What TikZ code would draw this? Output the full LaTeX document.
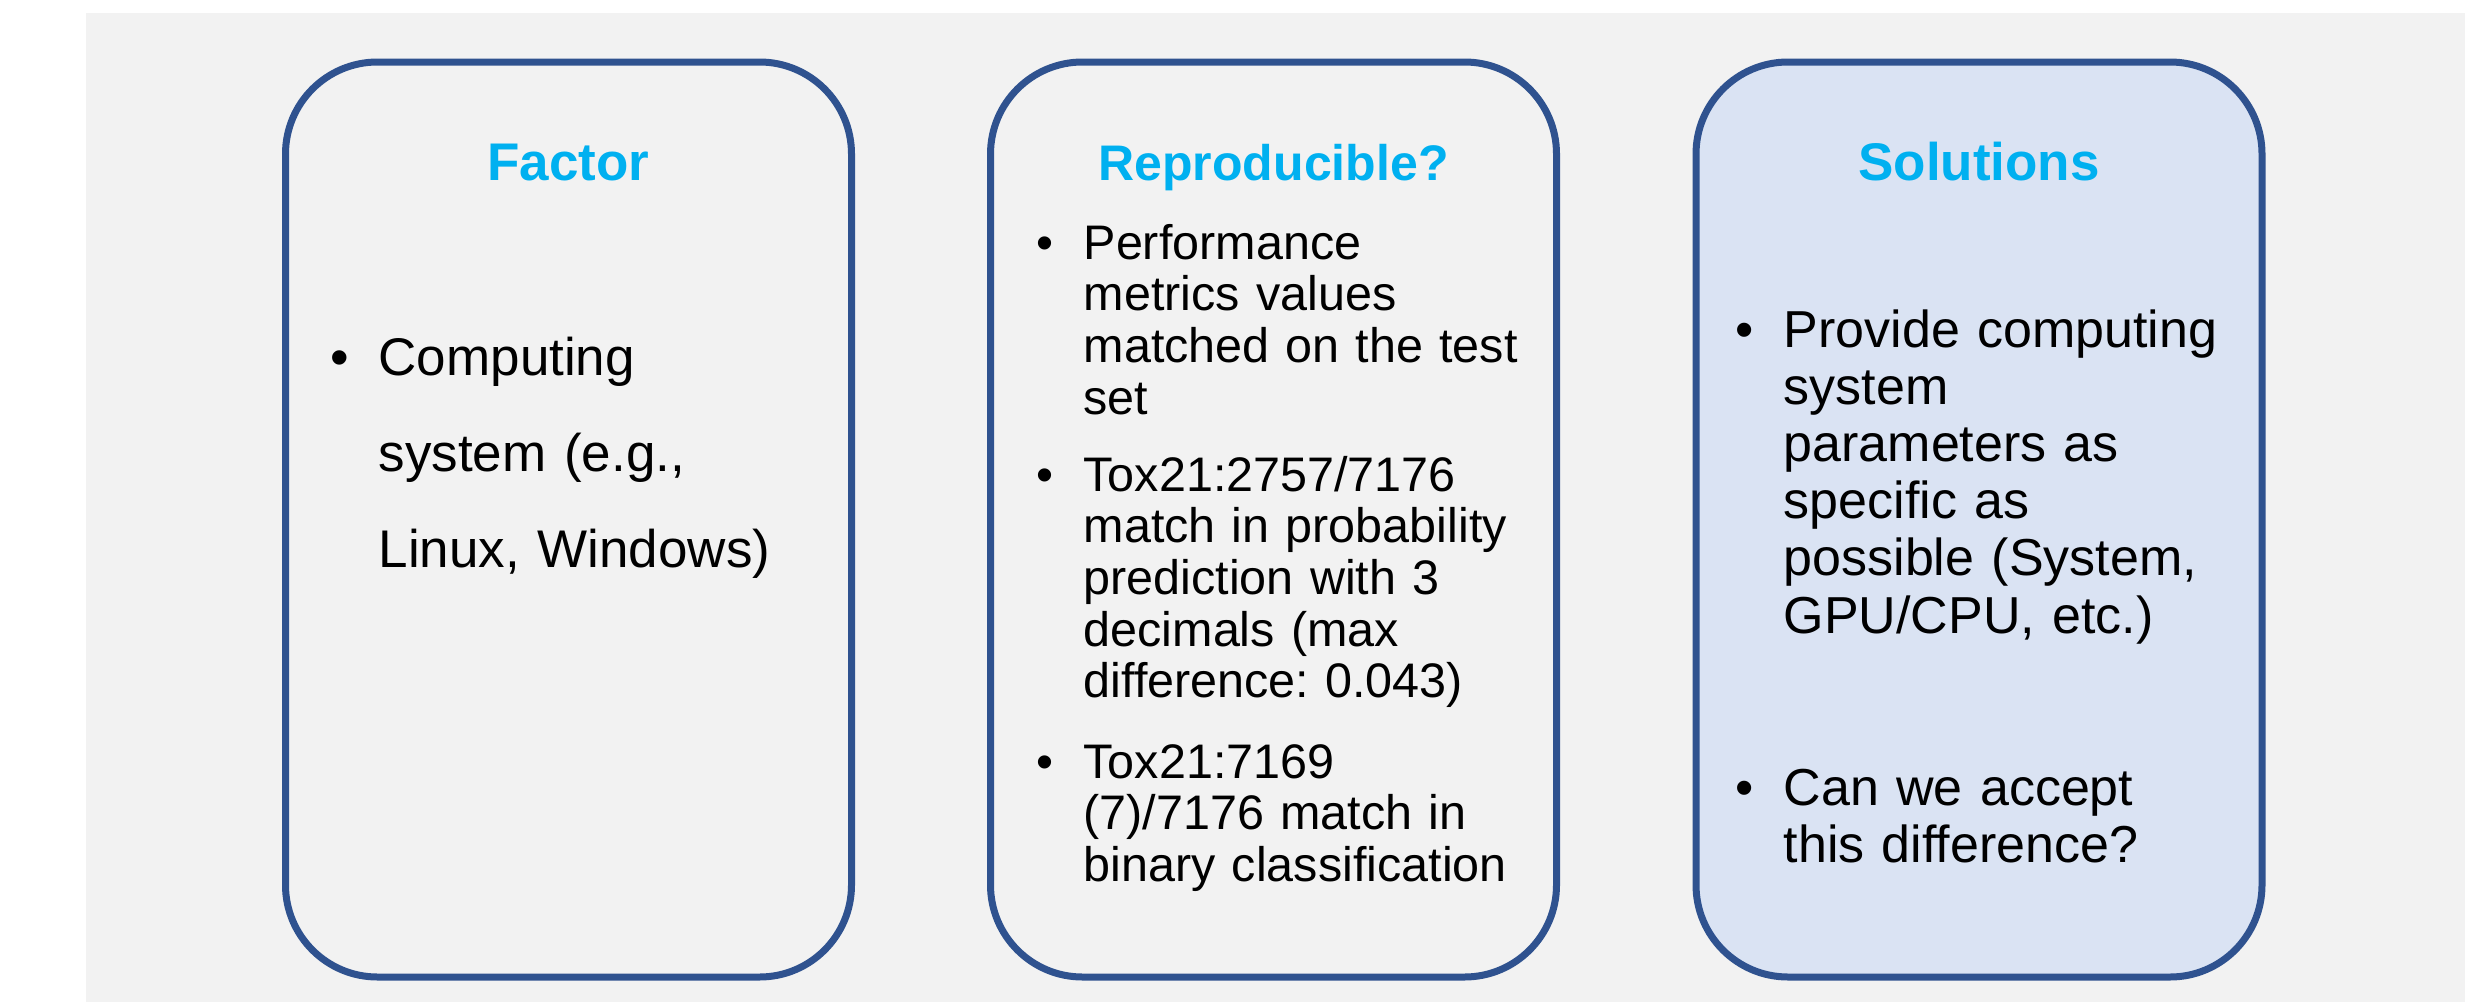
\documentclass[tikz,border=0pt]{standalone}
\usepackage{fontspec}
\setmainfont{Liberation Sans}
\frenchspacing

\definecolor{bggray}{HTML}{F2F2F2}
\definecolor{frameblue}{HTML}{2F528F}
\definecolor{headcyan}{HTML}{00B0F0}
\definecolor{paleblue}{HTML}{DAE3F3}

% hanging bullet in front of the first line of an item
\newcommand{\itembul}{\llap{\textbullet\hspace{9pt}}}

\tikzset{
  panel/.style={draw=frameblue, line width=2.1pt, rounded corners=27.6pt},
  head/.style={anchor=base, inner sep=0pt, text=headcyan,
    font=\bfseries\fontsize{15.9}{19}\selectfont},
  body/.style={anchor=base west, inner sep=0pt, text width=150pt, align=left}
}

\begin{document}
\begin{tikzpicture}[x=0.3pt, y=-0.3pt]
\useasboundingbox (0,0) rectangle (2485,1002);
\fill[bggray] (86,13) rectangle (2465,1002);

% the three panels
\draw[panel] (285.5,62) rectangle (851.5,977);
\draw[panel] (990.5,62) rectangle (1556.5,977);
\draw[panel, fill=paleblue] (1696,62) rectangle (2262,977);

% headings
\node[head] (factor) at (568.5,180) {Factor};
\node[head, font=\bfseries\fontsize{15}{18}\selectfont] (repro) at (1273.5,180) {Reproducible?};
\node[head] (solut) at (1979,180) {Solutions};

% left panel
\node[body, font=\fontsize{15.9}{28.8}\selectfont] (comp) at (378,375)
  {\itembul Computing\\ system (e.g.,\\ Linux, Windows)};

% middle panel
\node[body, font=\fontsize{14.55}{15.5}\selectfont] (perf) at (1083,259)
  {\itembul Performance\\ metrics values\\ matched on the test\\ set};
\node[body, font=\fontsize{14.55}{15.5}\selectfont] (prob) at (1083,491)
  {\itembul Tox21:2757/7176\\ match in probability\\ prediction with 3\\ decimals (max\\ difference: 0.043)};
\node[body, font=\fontsize{14.55}{15.5}\selectfont] (bin) at (1083,778)
  {\itembul Tox21:7169\\ (7)/7176 match in\\ binary classification};

% right panel
\node[body, font=\fontsize{15.6}{17.16}\selectfont] (prov) at (1783,347)
  {\itembul Provide computing\\ system\\ parameters as\\ specific as\\ possible (System,\\ GPU/CPU, etc.)};
\node[body, font=\fontsize{15.6}{17.16}\selectfont] (accept) at (1783,805)
  {\itembul Can we accept\\ this difference?};
\end{tikzpicture}
\end{document}
